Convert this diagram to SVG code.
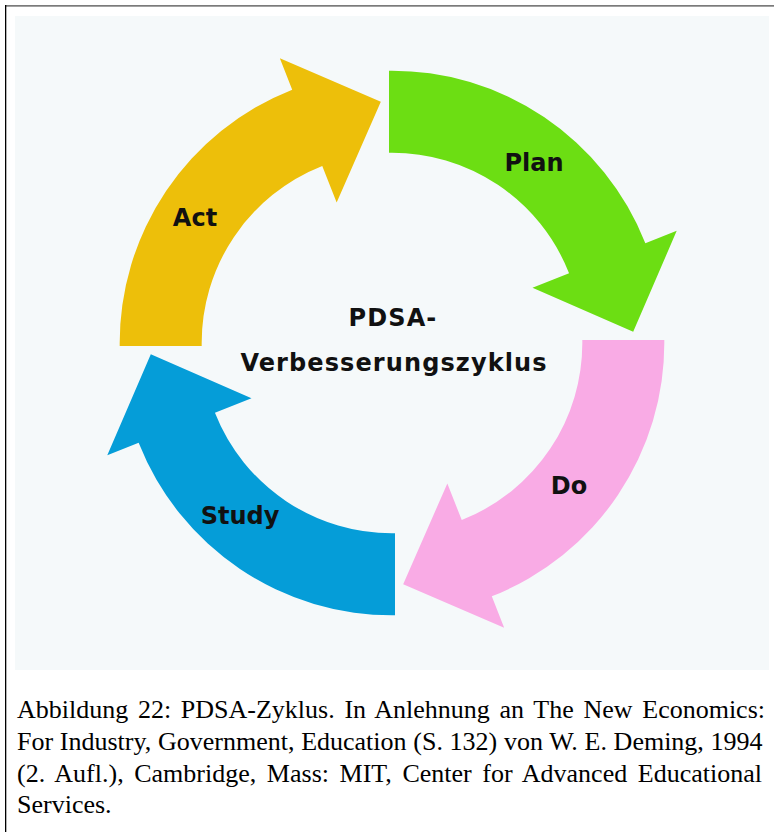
<svg xmlns="http://www.w3.org/2000/svg" xmlns:xlink="http://www.w3.org/1999/xlink" width="774" height="832" viewBox="0 0 774 832">
  <style>
    .label { font-family: "DejaVu Sans", "Liberation Sans", sans-serif; font-weight: bold; font-size: 24px; fill: #111; text-anchor: middle; }
    .title { letter-spacing: 1.1px; }
    .caption { font-family: "Liberation Serif", "Times New Roman", serif; font-size: 26px; fill: #000; }
  </style>
  <defs>
    <!-- one curved arrow (Plan, top-right quadrant); the others are rotated copies about the cycle centre (392,343) -->
    <path id="arc-arrow" d="M 389 70.7 A 272.3 272.3 0 0 1 645.35 243.2 L 676.71 230.85 L 633.19 331.82 L 532.49 287.66 L 569.06 273.25 A 190.3 190.3 0 0 0 389 152.7 Z"/>
  </defs>

  <!-- page frame -->
  <rect x="0" y="0" width="774" height="832" fill="#ffffff"/>
  <rect x="5" y="5" width="769" height="1.7" fill="#7a7a7a"/>
  <rect x="5" y="5" width="1.3" height="827" fill="#000000"/>
  <rect x="15" y="16" width="754" height="654" fill="#f5f9fa"/>

  <g id="connectors">
    <g id="plan">
      <use xlink:href="#arc-arrow" fill="#6cde13"/>
      <text class="label" x="534" y="171">Plan</text>
    </g>
    <g id="do">
      <use xlink:href="#arc-arrow" fill="#f9abe5" transform="rotate(90 392 343)"/>
      <text class="label" x="569" y="494">Do</text>
    </g>
    <g id="study">
      <use xlink:href="#arc-arrow" fill="#059dd8" transform="rotate(180 392 343)"/>
      <text class="label" x="240" y="524">Study</text>
    </g>
    <g id="act">
      <use xlink:href="#arc-arrow" fill="#edbf0a" transform="rotate(270 392 343)"/>
      <text class="label" x="195" y="226">Act</text>
    </g>
  </g>

  <g id="center-title">
    <text class="label title" x="393" y="326">PDSA-</text>
    <text class="label title" x="394" y="371">Verbesserungszyklus</text>
  </g>

  <g id="caption">
    <text class="caption" x="17" y="718" word-spacing="3.2">Abbildung 22: PDSA-Zyklus. In Anlehnung an The New Economics:</text>
    <text class="caption" x="17" y="750" word-spacing="0.2">For Industry, Government, Education (S. 132) von W. E. Deming, 1994</text>
    <text class="caption" x="17" y="782" word-spacing="4.1">(2. Aufl.), Cambridge, Mass: MIT, Center for Advanced Educational</text>
    <text class="caption" x="17" y="813">Services.</text>
  </g>
</svg>
